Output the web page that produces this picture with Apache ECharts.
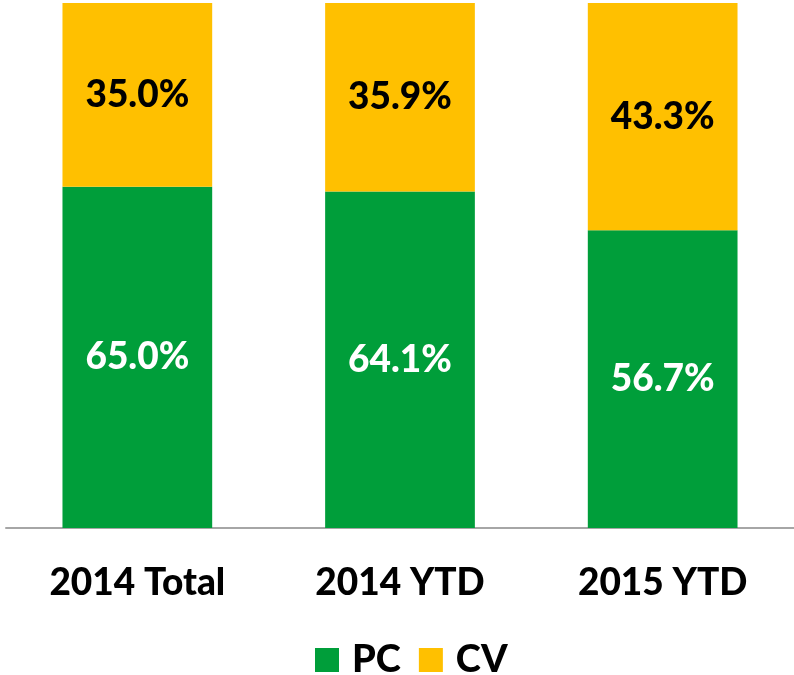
<!DOCTYPE html>
<html>
<head>
<meta charset="utf-8">
<script src="https://cdn.jsdelivr.net/npm/echarts@6/dist/echarts.min.js"></script>
<style>
  html, body { margin: 0; padding: 0; background: #fff; }
  #chart { width: 794px; height: 675px; }
</style>
</head>
<body>
<div id="chart"></div>
<script>
const categories = ['2014 Total', '2014 YTD', '2015 YTD'];
const pcShare = [65.0, 64.1, 56.7];
const cvShare = [35.0, 35.9, 43.3];

const fontFamily = 'Lato, "Open Sans", sans-serif';

const chart = echarts.init(document.getElementById('chart'));

const pctLabel = (color) => ({
  show: true,
  position: 'inside',
  color: color,
  fontFamily: fontFamily,
  fontWeight: 900,
  fontSize: 37,
  formatter: (p) => p.value.toFixed(1) + '%'
});

chart.setOption({
  animation: false,
  grid: { left: 6, width: 790, top: 3, bottom: 147 },
  legend: {
    top: 641,
    left: 310,
    padding: [0, 5],
    itemWidth: 24,
    itemHeight: 24,
    itemGap: 18,
    icon: 'rect',
    textStyle: {
      fontFamily: fontFamily,
      fontWeight: 900,
      fontSize: 38,
      color: '#000',
      padding: [0, 0, 0, 8]
    },
    data: ['PC', 'CV']
  },
  xAxis: {
    type: 'category',
    data: categories,
    axisTick: { show: false },
    axisLine: { lineStyle: { color: '#A6A6A6', width: 2 } },
    axisLabel: {
      margin: 37,
      color: '#000',
      fontFamily: fontFamily,
      fontWeight: 900,
      fontSize: 37
    }
  },
  yAxis: {
    type: 'value',
    min: 0,
    max: 100,
    show: false,
    splitLine: { show: false }
  },
  series: [
    {
      name: 'PC',
      type: 'bar',
      stack: 'share',
      barWidth: '57%',
      data: pcShare,
      itemStyle: { color: '#009E3A' },
      label: pctLabel('#fff')
    },
    {
      name: 'CV',
      type: 'bar',
      stack: 'share',
      data: cvShare,
      itemStyle: { color: '#FFC000' },
      label: pctLabel('#000')
    }
  ]
});
</script>
</body>
</html>
